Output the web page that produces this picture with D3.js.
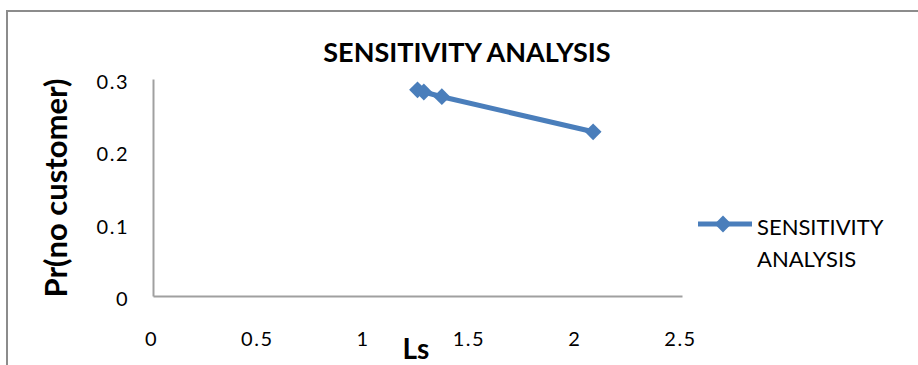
<!DOCTYPE html>
<html>
<head>
<meta charset="utf-8">
<script src="https://cdn.jsdelivr.net/npm/d3@7"></script>
<style>
  html, body { margin: 0; padding: 0; background: #fff; }
  svg { display: block; }
  text { font-family: Lato, "Open Sans", "Liberation Sans", sans-serif; fill: #000; }
</style>
</head>
<body>
<div id="chart"></div>
<script>
// Sensitivity analysis: probability of no customer against Ls
const title = "SENSITIVITY ANALYSIS";
const seriesName = ["SENSITIVITY", "ANALYSIS"];
const xLabel = "Ls";
const yLabel = "Pr(no customer)";
const lsValues = [1.25, 1.28, 1.365, 2.08];
const prNoCustomer = [0.285, 0.282, 0.2755, 0.227];
const xTicks = [0, 0.5, 1, 1.5, 2, 2.5];
const yTicks = [0, 0.1, 0.2, 0.3];

const W = 918, H = 365;
const plot = { left: 153, right: 682, top: 79, bottom: 296 };
const blue = "#4a7ebb";
const axisGrey = "#a0a0a0";
const tickFont = "'Open Sans', Lato, sans-serif";

const svg = d3.select("#chart").append("svg")
  .attr("width", W).attr("height", H);

// chart frame (runs past the right and bottom edges)
svg.append("rect")
  .attr("x", 7).attr("y", 11)
  .attr("width", W + 10).attr("height", H + 10)
  .attr("fill", "none").attr("stroke", "#8c8c8c").attr("stroke-width", 2);

const x = d3.scaleLinear().domain([0, 2.5]).range([plot.left, plot.right]);
const y = d3.scaleLinear().domain([0, 0.3]).range([plot.bottom, plot.top]);

// x axis
const xAxis = svg.append("g")
  .attr("transform", `translate(0,${plot.bottom})`)
  .call(d3.axisBottom(x).tickValues(xTicks).tickSize(0).tickPadding(36)
    .tickFormat(d => String(d)));
xAxis.select(".domain").attr("stroke", axisGrey).attr("stroke-width", 2);
xAxis.selectAll(".tick text")
  .attr("font-size", 20).attr("font-family", tickFont)
  .attr("letter-spacing", 1.5)
  .attr("fill", "#111")
  .attr("dx", -2);

// y axis
const yAxis = svg.append("g")
  .attr("transform", `translate(${plot.left},0)`)
  .call(d3.axisLeft(y).tickValues(yTicks).tickSize(0).tickPadding(24)
    .tickFormat(d => String(d)));
yAxis.select(".domain").attr("stroke", axisGrey).attr("stroke-width", 2);
yAxis.selectAll(".tick text")
  .attr("font-size", 20).attr("font-family", tickFont)
  .attr("letter-spacing", 1.5)
  .attr("fill", "#111")
  .attr("dy", 9.5);

// series line
const pts = lsValues.map((v, i) => [v, prNoCustomer[i]]);
svg.append("path")
  .datum(pts)
  .attr("fill", "none").attr("stroke", blue).attr("stroke-width", 5)
  .attr("stroke-linejoin", "round")
  .attr("d", d3.line().x(d => x(d[0])).y(d => y(d[1])));

// diamond markers
const diamond = d3.symbol().type(d3.symbolDiamond2).size(180);
svg.append("g").selectAll("path")
  .data(pts).join("path")
  .attr("d", diamond)
  .attr("transform", d => `translate(${x(d[0])},${y(d[1])})`)
  .attr("fill", blue);

// title
svg.append("text")
  .attr("x", 467).attr("y", 62)
  .attr("text-anchor", "middle")
  .attr("font-family", "'Liberation Sans Narrow', 'Open Sans', sans-serif")
  .attr("font-weight", "bold").attr("font-size", 27)
  .text(title);

// axis titles
svg.append("text")
  .attr("x", 416).attr("y", 359)
  .attr("text-anchor", "middle")
  .attr("font-weight", "bold").attr("font-size", 28)
  .text(xLabel);

svg.append("text")
  .attr("transform", "translate(67,188) rotate(-90)")
  .attr("text-anchor", "middle")
  .attr("font-weight", "bold").attr("font-size", 31)
  .text(yLabel);

// legend
const lg = svg.append("g").attr("transform", "translate(698,224)");
lg.append("line").attr("x1", 0).attr("x2", 54).attr("y1", 0).attr("y2", 0)
  .attr("stroke", blue).attr("stroke-width", 5);
lg.append("path").attr("d", diamond).attr("transform", "translate(25,0)")
  .attr("fill", blue);
lg.selectAll("text.legend").data(seriesName).join("text")
  .attr("class", "legend")
  .attr("x", 59).attr("y", (d, i) => 11 + i * 32)
  .attr("font-size", 22)
  .attr("fill", "#111")
  .text(d => d);
</script>
</body>
</html>
